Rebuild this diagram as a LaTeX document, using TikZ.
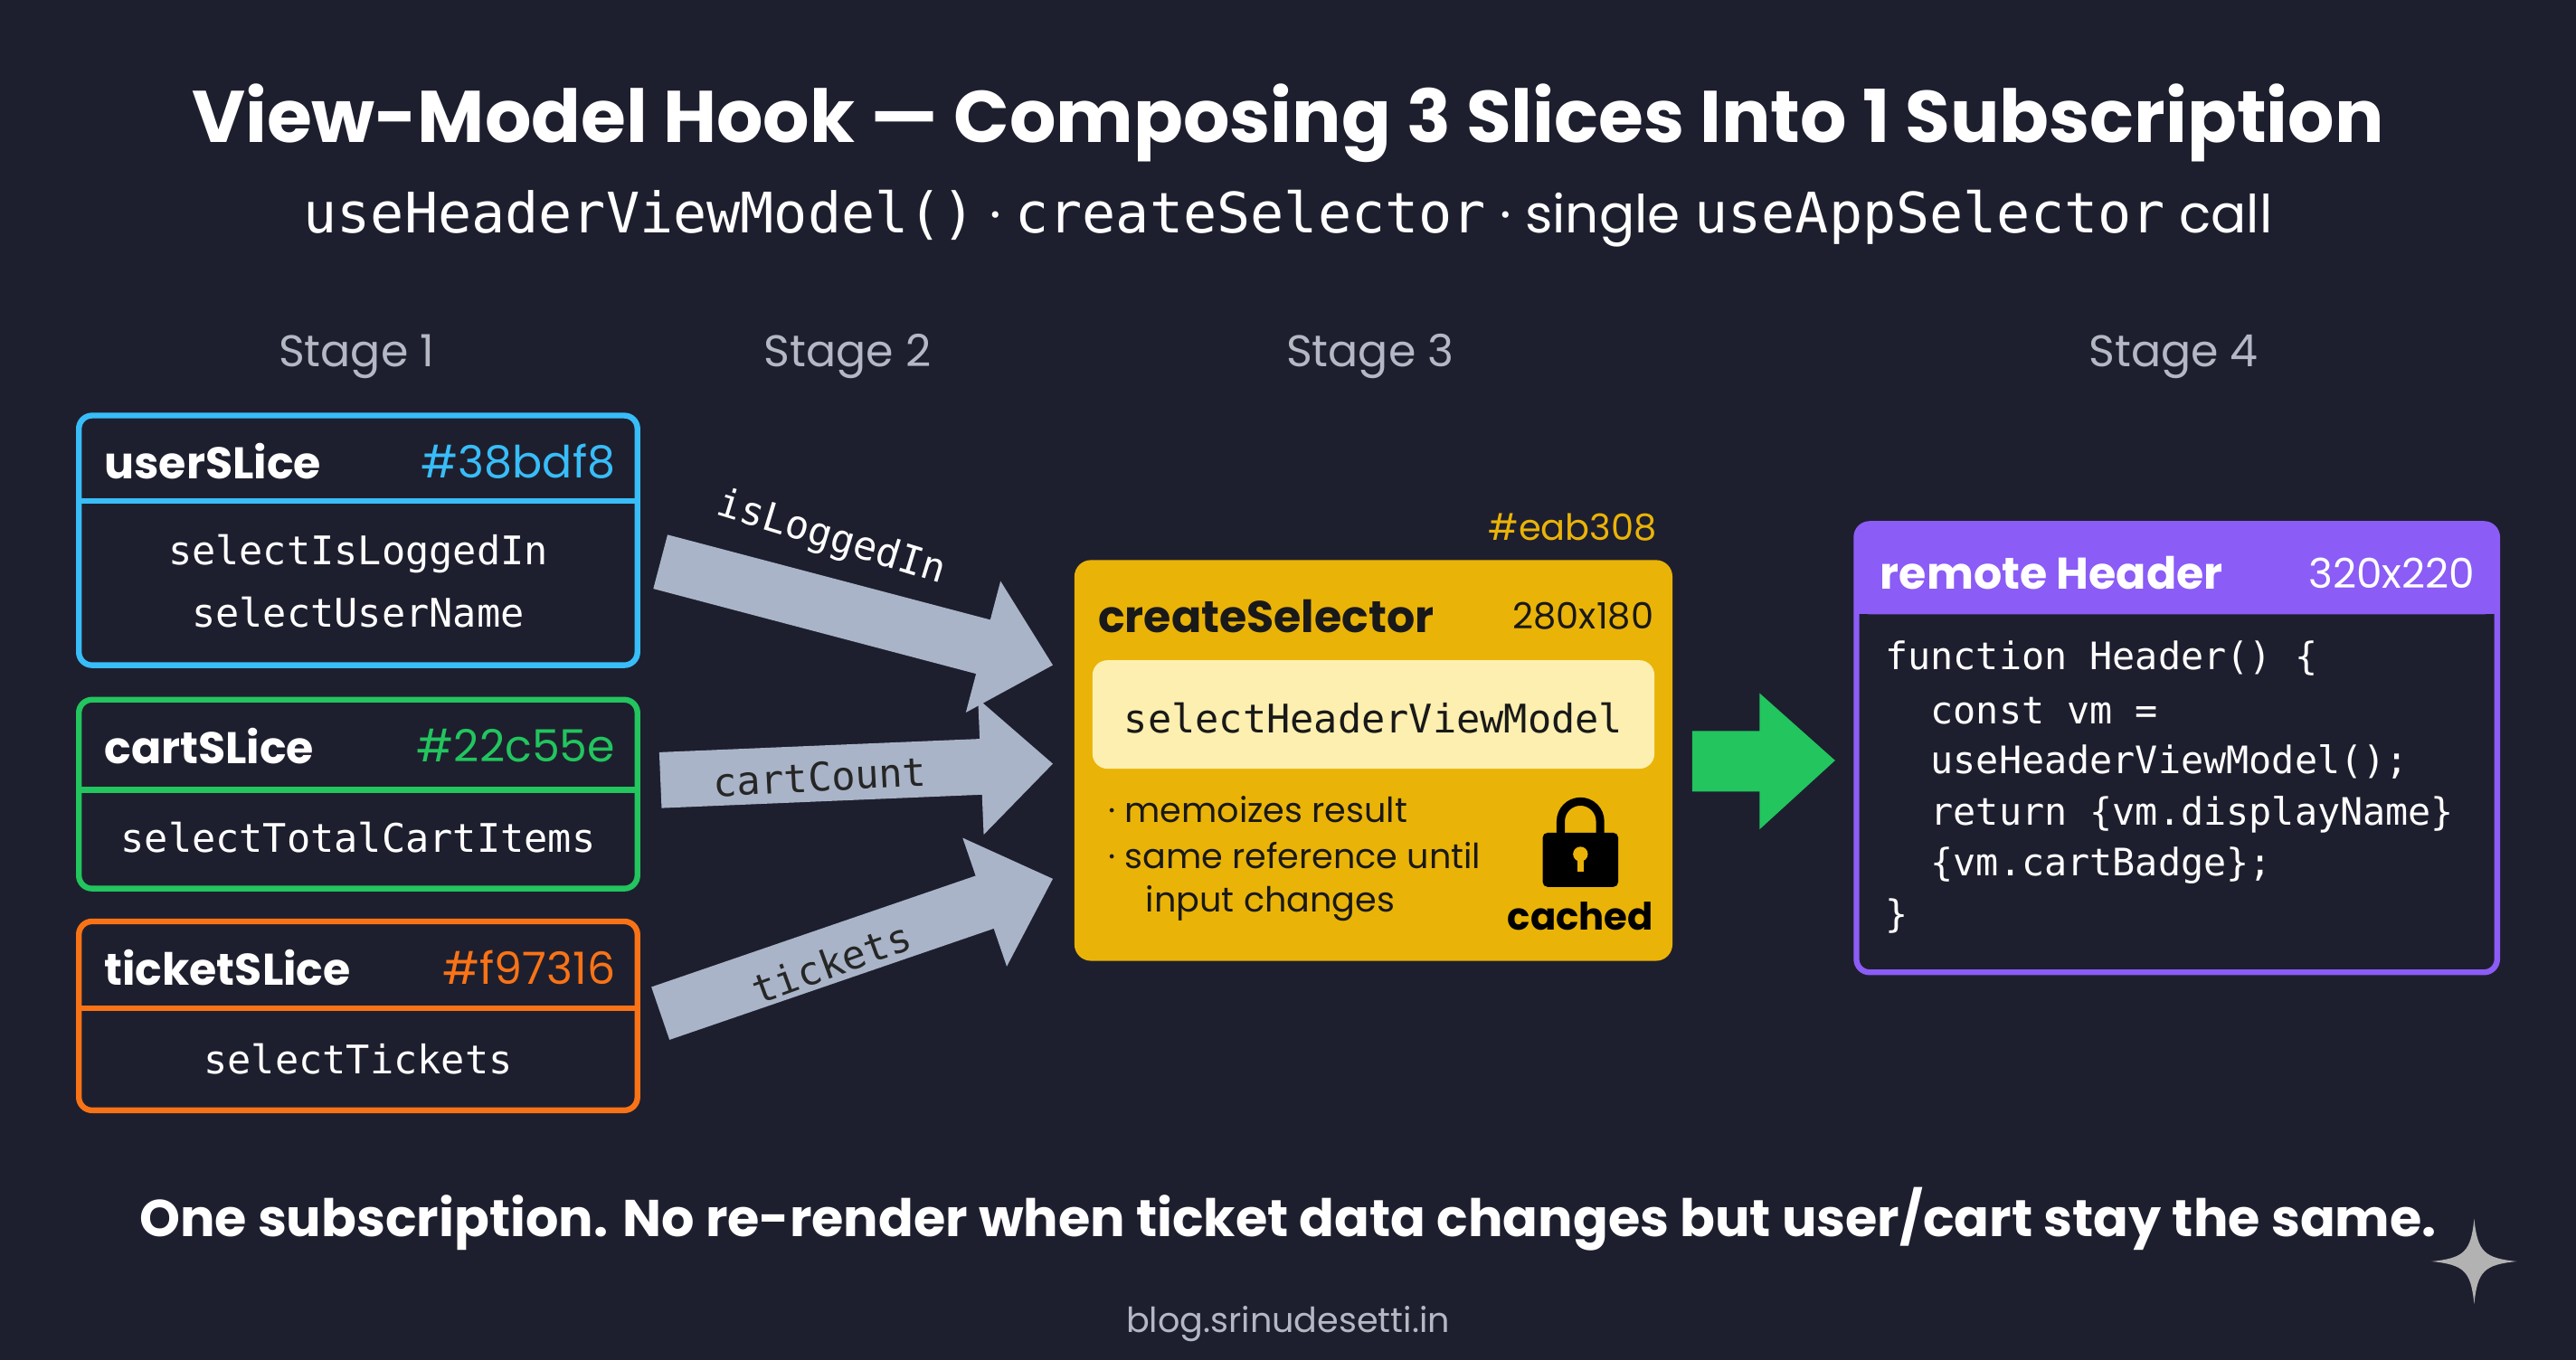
\documentclass[tikz,border=0pt]{standalone}
\usepackage{fontspec}
\setmainfont{Poppins}
\newfontfamily\monof{DejaVu Sans Mono}
\usetikzlibrary{arrows.meta,calc}
\definecolor{bg}{HTML}{1E1F2E}
\definecolor{cblue}{HTML}{38BDF8}
\definecolor{cgreen}{HTML}{22C55E}
\definecolor{corange}{HTML}{F97316}
\definecolor{cyellow}{HTML}{EAB308}
\definecolor{cpurple}{HTML}{8B5CF6}
\definecolor{arrowc}{HTML}{A9B4C8}
\definecolor{stagec}{HTML}{B4B8C4}
\definecolor{inner}{HTML}{FDEFB0}
\newcommand{\fs}[1]{\fontsize{#1}{#1}\selectfont}
\tikzset{
  slicebox/.style={draw=#1, line width=3.5pt, rounded corners=8pt, inner sep=0pt},
  hdr/.style={text=white, font=\fs{27}\bfseries, anchor=west},
  hexl/.style={text=#1, font=\fs{27}, anchor=east},
  mono/.style={text=white, font=\monof\fs{24}},
  stage/.style={text=stagec, font=\fs{27}},
  blockarrow/.style={draw=arrowc, line width=34pt, -{Triangle[length=44pt,width=80pt]}},
  alabel/.style={text=black!85, font=\monof\fs{24}},
  code/.style={text=white, font=\monof\fs{23}, anchor=west},
}
\begin{document}
\begin{tikzpicture}[x=1pt,y=-1pt]
\fill[bg] (0,0) rectangle (1568,828);
\useasboundingbox (0,0) rectangle (1568,828);

\node[text=white, font=\fs{44.5}\bfseries] (title) at (784,75) {View-Model Hook — Composing 3 Slices Into 1 Subscription};
\node[text=white, font=\fs{32}] (sub) at (784,133) {{\monof\fs{34}useHeaderViewModel()} · {\monof\fs{34}createSelector} · single {\monof\fs{34}useAppSelector} call};

\node[stage] (s1) at (217,217) {Stage 1};
\node[stage] (s2) at (516,217) {Stage 2};
\node[stage] (s3) at (834,217) {Stage 3};
\node[stage] (s4) at (1323,217) {Stage 4};

% user slice
\draw[slicebox=cblue] (48,253) rectangle (388,405);
\draw[cblue, line width=3.5pt] (48,305) -- (388,305);
\node[hdr] (uh) at (60,281) {userSLice};
\node[hexl=cblue] (uhex) at (378,281) {\#38bdf8};
\node[mono] (u1) at (218,337) {selectIsLoggedIn};
\node[mono] (u2) at (218,373) {selectUserName};
\coordinate (user) at (402,342);
% cart slice
\draw[slicebox=cgreen] (48,426) rectangle (388,541);
\draw[cgreen, line width=3.5pt] (48,481) -- (388,481);
\node[hdr] (ch) at (60,454) {cartSLice};
\node[hexl=cgreen] (chex) at (378,454) {\#22c55e};
\node[mono] (c1) at (218,510) {selectTotalCartItems};
\coordinate (cart) at (402,475);
% ticket slice
\draw[slicebox=corange] (48,561) rectangle (388,676);
\draw[corange, line width=3.5pt] (48,614) -- (388,614);
\node[hdr] (th) at (60,589) {ticketSLice};
\node[hexl=corange] (thex) at (378,589) {\#f97316};
\node[mono] (t1) at (218,645) {selectTickets};
\coordinate (ticket) at (402,617);

% createSelector
\node[text=cyellow, font=\fs{22}, anchor=east] (yhex) at (1012,321) {\#eab308};
\fill[cyellow, rounded corners=10pt] (654,341) rectangle (1018,585);
\coordinate (in1) at (641,405);
\coordinate (in2) at (641,465);
\coordinate (in3) at (641,535);
\node[text=black!90, font=\fs{27}\bfseries, anchor=west] (csh) at (665,375) {createSelector};
\node[text=black!90, font=\fs{22}, anchor=east] (csd) at (1010,375) {280x180};
\fill[inner, rounded corners=9pt] (665,402) rectangle (1007,468);
\node[text=black!90, font=\monof\fs{24}] (shvm) at (836,437) {selectHeaderViewModel};
\node[text=black!90, font=\fs{21}, anchor=west] (b1) at (671,493) {· memoizes result};
\node[text=black!90, font=\fs{21}, anchor=west] (b2) at (671,521) {· same reference until};
\node[text=black!90, font=\fs{21}, anchor=west] (b3) at (694,550) {input changes};
% lock
\draw[black, line width=5pt] (950,512) -- (950,500) arc (180:360:12) -- (974,512);
\fill[black, rounded corners=3pt] (939,507) rectangle (985,540);
\fill[cyellow] (962,520) circle (4.5);
\fill[cyellow] (960,521) rectangle (964,531);
\node[text=black, font=\fs{23}\bfseries] (cached) at (962,558) {cached};

% arrows
\draw[blockarrow] (user) -- (in1);
\draw[blockarrow] (cart) -- (in2);
\draw[blockarrow] (ticket) -- (in3);
\node[text=white, font=\monof\fs{24}, rotate=-17] (l1) at (506,328) {isLoggedIn};
\node[alabel, rotate=3] (l2) at (499,473) {cartCount};
\node[alabel, rotate=20] (l3) at (506,586) {tickets};

% green arrow
\fill[cgreen] (1030,445) -- (1071,445) -- (1071,422) -- (1117,463) -- (1071,505) -- (1071,482) -- (1030,482) -- cycle;

% remote header
\fill[cpurple, rounded corners=8pt] (1130,319) rectangle (1520,374);
\fill[cpurple] (1130,350) rectangle (1520,374);
\draw[cpurple, line width=3.5pt, rounded corners=8pt] (1130,319) rectangle (1520,592);
\node[text=white, font=\fs{27}\bfseries, anchor=west] (rh) at (1141,349) {remote Header};
\node[text=white, font=\fs{25}, anchor=east] (rd) at (1510,349) {320x220};
\node[code] (k1) at (1144,401) {function Header() \{};
\node[code] (k2) at (1144,433) {\ \ const vm =};
\node[code] (k3) at (1144,464) {\ \ useHeaderViewModel();};
\node[code] (k4) at (1144,496) {\ \ return \{vm.displayName\}};
\node[code] (k5) at (1144,527) {\ \ \{vm.cartBadge\};};
\node[code] (k6) at (1144,558) {\}};

\node[text=white, font=\fs{31.5}\bfseries] (foot) at (784,742) {One subscription. No re-render when ticket data changes but user/cart stay the same.};
\node[text=stagec, font=\fs{21}] (blog) at (784,806) {blog.srinudesetti.in};

% sparkle
\fill[gray!60] (1506,742) .. controls (1508,762) and (1512,766) .. (1532,768) .. controls (1512,770) and (1508,774) .. (1506,794) .. controls (1504,774) and (1500,770) .. (1480,768) .. controls (1500,766) and (1504,762) .. (1506,742) -- cycle;
\end{tikzpicture}
\end{document}
